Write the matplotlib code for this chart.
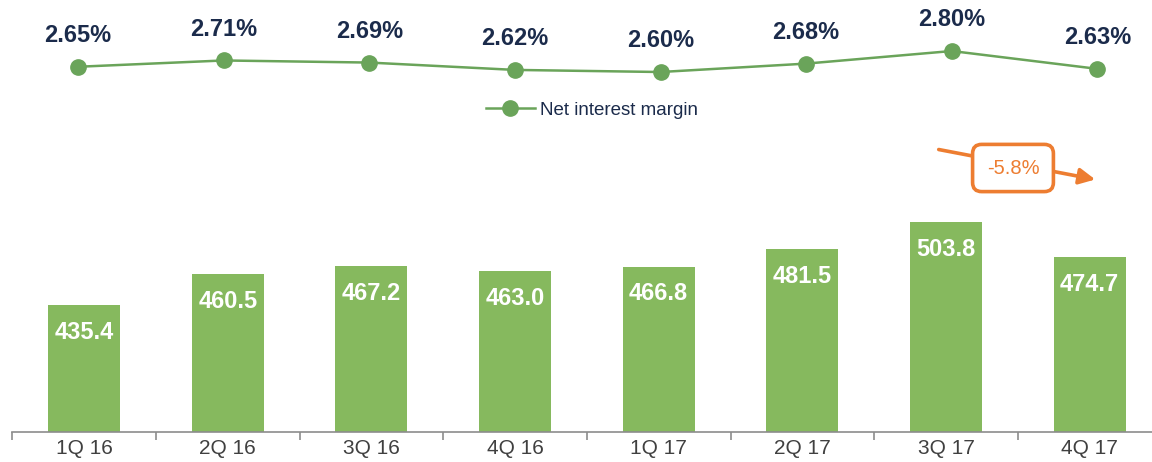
import matplotlib
matplotlib.use('Agg')
import matplotlib.pyplot as plt

quarters = ['1Q 16', '2Q 16', '3Q 16', '4Q 16', '1Q 17', '2Q 17', '3Q 17', '4Q 17']
income = [435.4, 460.5, 467.2, 463.0, 466.8, 481.5, 503.8, 474.7]
nim = [2.65, 2.71, 2.69, 2.62, 2.60, 2.68, 2.80, 2.63]
change_label = '-5.8%'

plt.rcParams['font.family'] = ['Liberation Sans', 'DejaVu Sans']

W, H = 1152, 462
bar_col = '#86B95E'
line_col = '#6AA45A'
navy = '#1B2B4B'
orange = '#ED7D31'

fig = plt.figure(figsize=(W / 100, H / 100), dpi=100)

# bars
ax = fig.add_axes([12.2 / W, 30 / H, 1149.3 / W, 292 / H])
x = range(len(quarters))
ax.bar(x, income, width=0.5, color=bar_col)
ax.set_xlim(-0.5, 7.5)
ax.set_ylim(330.7, 571.3)
for i, v in enumerate(income):
    ax.annotate(f'{v:.1f}', (i, v), xytext=(0, -19.5), textcoords='offset points',
                ha='center', va='center', color='white', fontsize=17, fontweight='bold')
for s in ['top', 'right', 'left']:
    ax.spines[s].set_visible(False)
ax.spines['bottom'].set_color('#8C8C8C')
ax.spines['bottom'].set_linewidth(1.2)
ax.set_yticks([])
ax.set_xticks(list(x))
ax.set_xticklabels(quarters, fontsize=15, color='#404040')
ax.tick_params(axis='x', which='major', length=0, pad=5)
ax.set_xticks([i - 0.5 for i in range(len(quarters) + 1)], minor=True)
ax.tick_params(axis='x', which='minor', length=6, color='#8C8C8C', width=1.2)

# net interest margin line
ax2 = fig.add_axes([5.2 / W, (H - 130) / H, 1165 / W, 130 / H])
ax2.plot(list(x), nim, color=line_col, lw=1.8, marker='o', markersize=11,
         label='Net interest margin')
ax2.set_xlim(-0.5, 7.5)
ax2.set_ylim(2.0476, 3.286)
ax2.axis('off')
for i, v in enumerate(nim):
    ax2.annotate(f'{v:.2f}%', (i, v), xytext=(0, 22.5), textcoords='offset points',
                 ha='center', va='center', color=navy, fontsize=17, fontweight='bold')
leg = ax2.legend(loc='center', bbox_to_anchor=(592 / W, 1 - 110 / H),
                 bbox_transform=fig.transFigure, frameon=False, fontsize=13.5,
                 handlelength=2.6, handletextpad=0.3)
for t in leg.get_texts():
    t.set_color(navy)

# change annotation
fig.add_artist(matplotlib.patches.FancyArrowPatch(
    (936 / W, 1 - 149 / H), (1098 / W, 1 - 180 / H), transform=fig.transFigure,
    arrowstyle='-|>', mutation_scale=24, color=orange, lw=2.6))
fig.text(1013 / W, 1 - 168 / H, change_label, ha='center', va='center', fontsize=14.5,
         color=orange,
         bbox=dict(boxstyle='round,pad=0.7,rounding_size=0.45', fc='white', ec=orange, lw=2.6))

fig.savefig('out.png', dpi=100)
